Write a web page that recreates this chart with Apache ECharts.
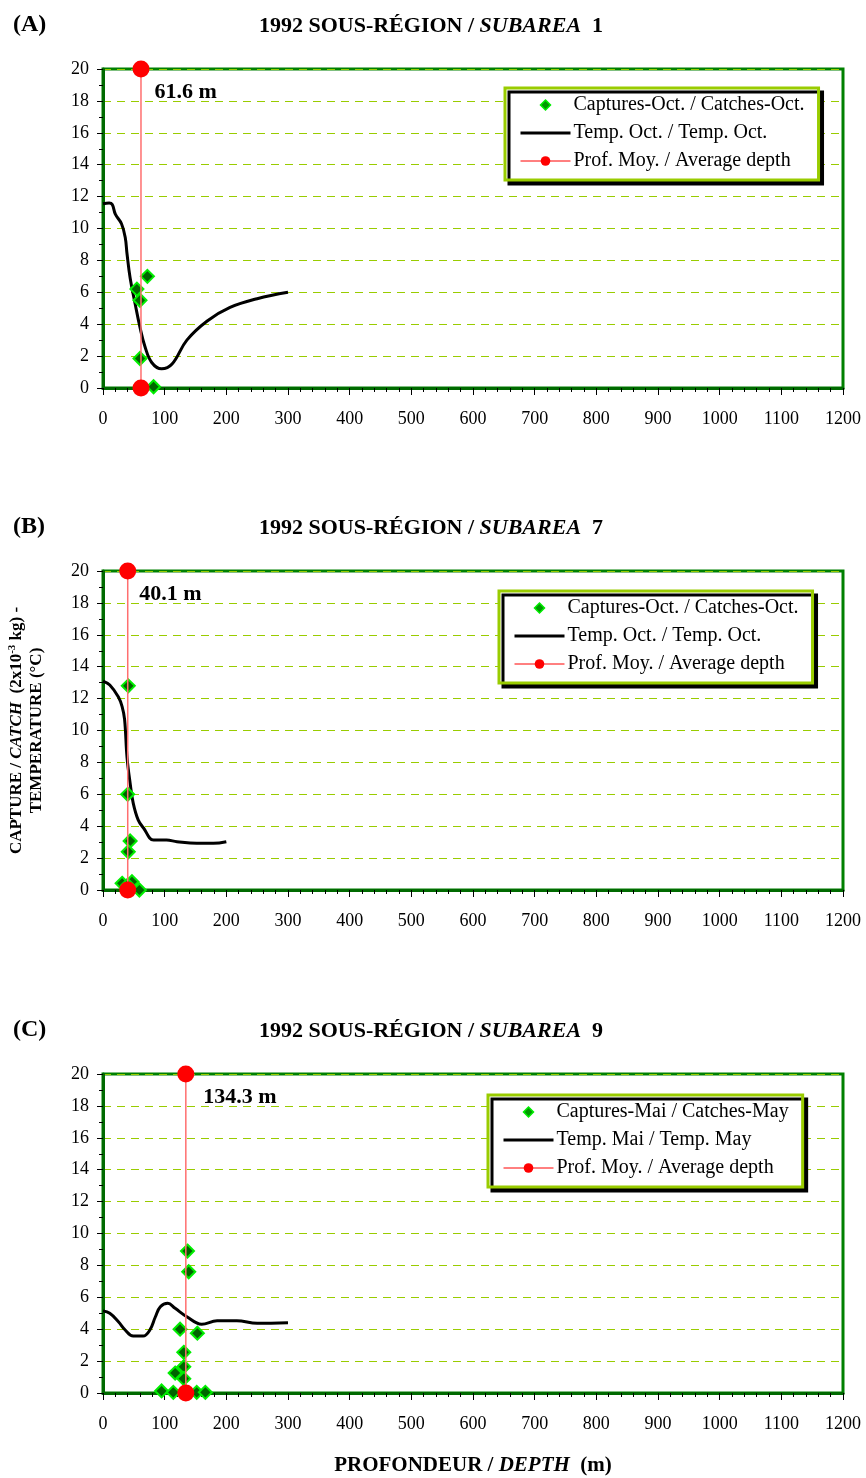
<!DOCTYPE html>
<html><head><meta charset="utf-8">
<script src="https://cdn.jsdelivr.net/npm/echarts/dist/echarts.min.js"></script>
<style>html,body{margin:0;padding:0;background:#fff}#c{width:866px;height:1478px}</style>
</head><body><div id="c"></div>
<script>
// ---------- DATA ----------
const panelLetters = ['(A)', '(B)', '(C)'];
const subareas = ['1', '7', '9'];
const titleYear = '1992';
const legendCatch = ['Captures-Oct. / Catches-Oct.', 'Captures-Oct. / Catches-Oct.', 'Captures-Mai / Catches-May'];
const legendTemp = ['Temp. Oct. / Temp. Oct.', 'Temp. Oct. / Temp. Oct.', 'Temp. Mai / Temp. May'];
const legendDepth = 'Prof. Moy. / Average depth';

const xTickMin = 0, xTickMax = 1200, xTickStep = 100;
const yTickMin = 0, yTickMax = 20, yTickStep = 2;

// Temperature profiles (depth m, temperature °C)
const tempDepthA = [0, 10, 15, 20, 30, 36, 39, 44, 52, 60, 68, 79, 95, 112, 136, 169, 206, 250, 300];
const tempValA   = [11.55, 11.6, 11.5, 10.9, 10.3, 9.45, 8.4, 6.9, 5.3, 3.8, 2.6, 1.6, 1.2, 1.5, 3.0, 4.2, 5.05, 5.6, 6.0];
const tempDepthB = [0, 11, 25, 31, 35, 39, 44, 49, 57, 66, 82, 103, 120, 152, 179, 200];
const tempValB   = [13.1, 12.85, 12.1, 11.5, 10.7, 8.3, 6.7, 5.45, 4.4, 3.87, 3.13, 3.13, 3.03, 2.93, 2.93, 3.03];
const tempDepthC = [0, 11, 25, 36, 49, 65, 76, 85, 93, 105, 117, 136, 160, 185, 217, 250, 300];
const tempValC   = [5.15, 5.0, 4.47, 3.95, 3.57, 3.57, 3.95, 4.78, 5.41, 5.62, 5.31, 4.78, 4.31, 4.53, 4.53, 4.37, 4.41];

// Catches (depth m, catch 2x10^-3 kg)
const catchDepthA = [72, 55, 60, 60, 82];
const catchValA   = [7.0, 6.2, 5.5, 1.85, 0.08];
const catchDepthB = [41, 40, 44, 41, 31, 47, 59, 40];
const catchValB   = [12.8, 6.0, 3.07, 2.4, 0.42, 0.52, 0.0, 0.3];
const catchDepthC = [137, 139, 125, 153, 131, 131, 131, 117, 95, 114, 152, 166, 135];
const catchValC   = [8.9, 7.6, 4.0, 3.75, 2.55, 1.65, 0.9, 1.25, 0.13, 0.04, 0.04, 0.04, 0.05];

// Average depth (m)
const avgDepth = [61.6, 40.1, 134.3];

// ---------- LAYOUT / STYLE ----------
const FONT = 'Liberation Serif';
const gridTops = [69, 571, 1074];
const gridH = 319;
const legendPos = [[505, 88], [499, 591], [488, 1095]];
const depthLabelOff = [[22, 21], [20, 21], [26, 21]];
// legend diamond icon: invisible move-to corners keep the 50x12 box, diamond 10px in the middle
const diamondIcon = 'path://M0,0M50,12M25,1L30,6L25,11L20,6Z';

const temps = [[tempDepthA, tempValA], [tempDepthB, tempValB], [tempDepthC, tempValC]];
const catches = [[catchDepthA, catchValA], [catchDepthB, catchValB], [catchDepthC, catchValC]];
const zip = (a, b) => a.map((v, i) => [v, b[i]]);

const grids = [], xAxes = [], yAxes = [], series = [], titles = [], legends = [];
const richT = {
  b: {fontFamily: FONT, fontWeight: 'bold', fontSize: 22, color: '#000'},
  bi: {fontFamily: FONT, fontWeight: 'bold', fontStyle: 'italic', fontSize: 22, color: '#000'}
};
const richX = {
  b: {fontFamily: FONT, fontWeight: 'bold', fontSize: 21, color: '#000'},
  bi: {fontFamily: FONT, fontWeight: 'bold', fontStyle: 'italic', fontSize: 21, color: '#000'}
};
const catchStyle = {color: '#006400', borderColor: '#00ee00', borderWidth: 2, opacity: 1};

for (let i = 0; i < 3; i++) {
  grids.push({left: 103, top: gridTops[i], width: 740, height: gridH, show: true,
    containLabel: false, outerBoundsMode: 'none',
    borderColor: '#008000', borderWidth: 3, backgroundColor: 'transparent'});
  xAxes.push({gridIndex: i, type: 'value', min: xTickMin, max: xTickMax, interval: xTickStep,
    axisLine: {show: true, onZero: false, lineStyle: {color: '#006a00', width: 3}},
    axisTick: {show: true, length: 7, lineStyle: {color: '#000', width: 1}},
    minorTick: {show: true, splitNumber: 5, length: 4, lineStyle: {color: '#000', width: 1}},
    axisLabel: {fontFamily: FONT, fontSize: 18, color: '#000', margin: 22, formatter: v => String(v)},
    splitLine: {show: false},
    name: i === 2 ? '{b|PROFONDEUR / }{bi|DEPTH}{b|  (m)}' : '',
    nameLocation: 'middle', nameGap: 62,
    nameTextStyle: {rich: richX}
  });
  yAxes.push({gridIndex: i, type: 'value', min: yTickMin, max: yTickMax, interval: yTickStep,
    axisLine: {show: true, onZero: false, lineStyle: {color: '#006a00', width: 3}},
    axisTick: {show: true, length: 6, lineStyle: {color: '#000', width: 1}},
    minorTick: {show: true, splitNumber: 2, length: 4, lineStyle: {color: '#000', width: 1}},
    axisLabel: {fontFamily: FONT, fontSize: 18, color: '#000', margin: 14, formatter: v => String(v)},
    splitLine: {show: true, lineStyle: {color: '#99cc00', type: [8, 6], width: 1}},
    name: i === 1 ? '{s|CAPTURE / }{si|CATCH}{s|  (2x10}{sup|-3}{s| kg) -}\n{s|TEMPERATURE (°C)}' : '',
    nameLocation: 'middle', nameRotate: 90, nameGap: 56,
    nameTextStyle: {lineHeight: 20, rich: {
      s: {fontFamily: FONT, fontWeight: 'bold', fontSize: 17, color: '#000', lineHeight: 20},
      si: {fontFamily: FONT, fontWeight: 'bold', fontStyle: 'italic', fontSize: 17, color: '#000', lineHeight: 20},
      sup: {fontFamily: FONT, fontWeight: 'bold', fontSize: 11, color: '#000', verticalAlign: 'top', lineHeight: 20}
    }}
  });
  const t = temps[i], c = catches[i], d = avgDepth[i];
  series.push({name: legendTemp[i], type: 'line', xAxisIndex: i, yAxisIndex: i, z: 2,
    data: zip(t[0], t[1]), smooth: 0.4, symbol: 'none',
    lineStyle: {color: '#000', width: 3}, itemStyle: {color: '#000'}});
  series.push({name: legendCatch[i], type: 'scatter', xAxisIndex: i, yAxisIndex: i, z: 3,
    data: zip(c[0], c[1]), symbol: 'diamond', symbolSize: 13, itemStyle: catchStyle});
  series.push({name: legendDepth, type: 'line', xAxisIndex: i, yAxisIndex: i, z: 4,
    data: [[d, yTickMin], {value: [d, yTickMax], label: {show: true, formatter: d.toFixed(1) + ' m',
      position: depthLabelOff[i], fontFamily: FONT, fontWeight: 'bold', fontSize: 22, color: '#000'}}],
    symbol: 'circle', symbolSize: 17, showSymbol: true,
    itemStyle: {color: '#ff0000'}, lineStyle: {color: '#ff6f6f', width: 1.5}});
  titles.push({text: '{b|' + titleYear + ' SOUS-RÉGION / }{bi|SUBAREA}{b|  ' + subareas[i] + '}',
    left: 426, top: gridTops[i] - 59, textAlign: 'center', textStyle: {rich: richT}});
  titles.push({text: panelLetters[i], left: 8, top: gridTops[i] - 61,
    textStyle: {fontFamily: FONT, fontWeight: 'bold', fontSize: 24, color: '#000'}});
  legends.push({orient: 'vertical', left: legendPos[i][0], top: legendPos[i][1],
    data: [
      {name: legendCatch[i], icon: diamondIcon, itemStyle: {color: '#009900', borderColor: '#00ee00', borderWidth: 1.5}},
      {name: legendTemp[i], itemStyle: {color: 'rgba(0,0,0,0)', borderWidth: 0}, lineStyle: {color: '#000', width: 3}},
      {name: legendDepth, lineStyle: {color: '#ff0000', width: 1}}
    ],
    backgroundColor: '#fff', borderColor: '#99cc00', borderWidth: 3,
    shadowColor: '#000', shadowBlur: 0, shadowOffsetX: 4, shadowOffsetY: 4,
    padding: [7, 14, 9, 14], itemGap: 8, itemWidth: 50, itemHeight: 12,
    textStyle: {fontFamily: FONT, fontSize: 20, color: '#000', lineHeight: 18, padding: [0, 0, 0, -2]},
    selectedMode: false});
}

const chart = echarts.init(document.getElementById('c'), null, {renderer: 'canvas'});
chart.setOption({
  animation: false, backgroundColor: '#fff',
  title: titles, legend: legends, grid: grids, xAxis: xAxes, yAxis: yAxes, series: series
});
</script></body></html>
